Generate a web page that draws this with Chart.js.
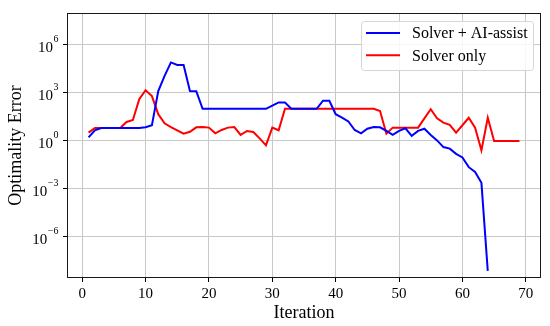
<!DOCTYPE html>
<html lang="en">
<head>
<meta charset="UTF-8">
<title>Optimality Error vs Iteration</title>
<script src="https://cdn.jsdelivr.net/npm/chart.js@4.4.1/dist/chart.umd.min.js"></script>
<style>
  * { margin: 0; padding: 0; }
  body { background: #fff; width: 550px; height: 326px; overflow: hidden; }
  canvas { display: block; }
</style>
</head>
<body>
<canvas id="chart" width="550" height="326"></canvas>
<script>
// Data (values are the error itself, plotted on a log axis)
const seriesNames = ['Solver + AI-assist', 'Solver only'];

const aiAssistErr = [
  1.6, 4.5, 6.3, 6.3, 6.3, 6.3, 6.3, 6.3, 6.3, 6.9,
  9.3, 1.3e3, 1.15e4, 8e4, 5.6e4, 5.6e4, 1.3e3, 1.25e3, 100, 100,
  100, 100, 100, 100, 100, 100, 100, 100, 100, 160,
  250, 250, 100, 100, 100, 100, 100, 320, 320, 46,
  28, 16, 4.7, 2.9, 5.6, 7.2, 6.9, 4.1, 2.3, 4.1,
  6.0, 2.0, 4.1, 5.6, 2.3, 1.05, 0.4, 0.32, 0.15, 0.089,
  0.022, 0.011, 0.0023, 7e-9
];

const solverOnlyErr = [
  3.2, 6.3, 6.3, 6.3, 6.3, 6.3, 15, 20, 400, 1450,
  620, 46, 12.3, 7.2, 4.5, 2.75, 3.6, 6.9, 7.2, 6.6,
  2.9, 4.7, 6.6, 7.2, 2.3, 4.1, 3.5, 1.4, 0.51, 6.6,
  4.5, 100, 100, 100, 100, 100, 100, 100, 100, 100,
  100, 100, 100, 100, 100, 100, 72, 2.75, 6.6, 6.6,
  6.6, 6.6, 6.6, 25, 93, 25, 13.5, 9.8, 3.2, 9.3,
  27.5, 6.6, 0.25, 27.5, 0.95, 0.95, 0.95, 0.95, 0.95
];

// iteration numbers start at 1
const aiAssistIter = aiAssistErr.map((_, i) => i + 1);
const solverOnlyIter = solverOnlyErr.map((_, i) => i + 1);

const xTicks = [0, 10, 20, 30, 40, 50, 60, 70];
const yTicks = [1e-6, 1e-3, 1, 1e3, 1e6];

const SERIF = "'Liberation Serif', 'Times New Roman', serif";

// y tick labels as 10 with a raised exponent
const powerLabels = {
  id: 'powerLabels',
  afterDraw(chart) {
    const ys = chart.scales.y;
    const ctx = chart.ctx;
    ctx.save();
    ctx.fillStyle = '#000';
    ctx.textAlign = 'right';
    ctx.textBaseline = 'alphabetic';
    ys.ticks.forEach(t => {
      const py = ys.getPixelForValue(t.value);
      const e = Math.round(Math.log10(t.value));
      const expTxt = e < 0 ? '\u2212' + (-e) : String(e);
      const right = ys.right - 8.5;
      ctx.font = `10px ${SERIF}`;
      const ew = ctx.measureText(expTxt).width;
      ctx.fillText(expTxt, right, py - 2.5);
      ctx.font = `15px ${SERIF}`;
      ctx.fillText('10', right - ew - 0.5, py + 7.5);
    });
    ctx.restore();
  }
};

// closed box round the plot + legend in the upper right
const frameAndLegend = {
  id: 'frameAndLegend',
  afterDraw(chart) {
    const ctx = chart.ctx;
    const a = chart.chartArea;
    ctx.save();
    ctx.strokeStyle = '#1a1a1a';
    ctx.lineWidth = 1;
    ctx.strokeRect(Math.round(a.left) + 0.5, Math.round(a.top) + 0.5,
      Math.round(a.right - a.left) - 1, Math.round(a.bottom - a.top) - 1);

    // legend box
    const bx = 361, by = 21, bw = 172, bh = 49;
    ctx.beginPath();
    ctx.roundRect(bx + 0.5, by + 0.5, bw, bh, 3);
    ctx.fillStyle = 'rgba(255,255,255,0.85)';
    ctx.fill();
    ctx.strokeStyle = '#d6d6d6';
    ctx.stroke();

    ctx.font = `16px ${SERIF}`;
    ctx.textAlign = 'left';
    ctx.textBaseline = 'middle';
    chart.data.datasets.forEach((ds, i) => {
      const ly = by + 12 + i * 22.3;
      ctx.beginPath();
      ctx.moveTo(bx + 5, ly);
      ctx.lineTo(bx + 39, ly);
      ctx.strokeStyle = ds.borderColor;
      ctx.lineWidth = 2;
      ctx.stroke();
      ctx.fillStyle = '#000';
      ctx.fillText(ds.label, bx + 51, ly + 1);
    });
    ctx.restore();
  }
};

new Chart(document.getElementById('chart'), {
  type: 'line',
  data: {
    datasets: [
      {
        label: seriesNames[0],
        data: aiAssistIter.map((x, i) => ({ x, y: aiAssistErr[i] })),
        borderColor: '#0000ff',
        borderWidth: 2,
        pointRadius: 0,
        tension: 0,
        fill: false,
      },
      {
        label: seriesNames[1],
        data: solverOnlyIter.map((x, i) => ({ x, y: solverOnlyErr[i] })),
        borderColor: '#ff0000',
        borderWidth: 2,
        pointRadius: 0,
        tension: 0,
        fill: false,
      },
    ],
  },
  options: {
    responsive: false,
    animation: false,
    devicePixelRatio: 1,
    layout: { padding: { top: 13, right: 9, left: 0, bottom: 0 } },
    plugins: {
      legend: { display: false },
      tooltip: { enabled: false },
    },
    scales: {
      x: {
        type: 'linear',
        min: -2.4,
        max: 72.4,
        afterBuildTicks: scale => { scale.ticks = xTicks.map(v => ({ value: v })); },
        afterFit: scale => { scale.height = 48; },
        ticks: {
          font: { family: SERIF, size: 15 },
          color: '#000',
          padding: 3,
          maxRotation: 0,
        },
        grid: { color: '#c8c8c8', lineWidth: 1, tickColor: '#000', tickLength: 4 },
        border: { display: false },
        title: {
          display: true,
          text: 'Iteration',
          color: '#000',
          font: { family: SERIF, size: 18 },
          padding: { top: 0, bottom: 2 },
        },
      },
      y: {
        type: 'logarithmic',
        min: Math.pow(10, -8.6),
        max: 1e8,
        afterBuildTicks: scale => { scale.ticks = yTicks.map(v => ({ value: v })); },
        afterFit: scale => { scale.width = 67; },
        ticks: { display: false },
        grid: { color: '#c8c8c8', lineWidth: 1, tickColor: '#000', tickLength: 4 },
        border: { display: false },
        title: {
          display: true,
          text: 'Optimality Error',
          color: '#000',
          font: { family: SERIF, size: 18 },
          padding: { top: 5, bottom: 0 },
        },
      },
    },
  },
  plugins: [powerLabels, frameAndLegend],
});
</script>
</body>
</html>
